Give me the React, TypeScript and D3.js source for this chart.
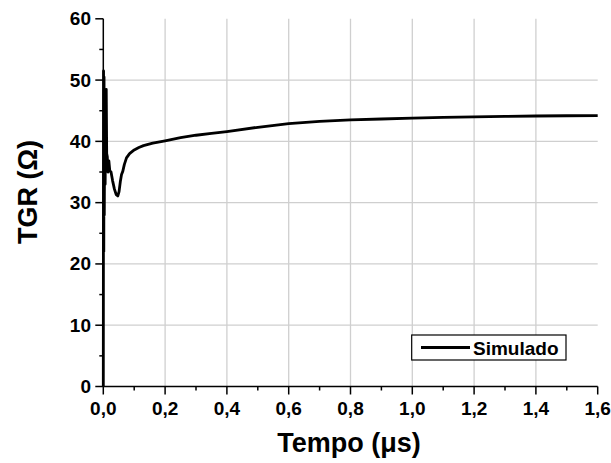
import React from "react";
import * as d3 from "d3";

const timeUs = [0, 0.0008, 0.0016, 0.0024, 0.0032, 0.0045, 0.006, 0.008, 0.0095, 0.011, 0.013, 0.015, 0.018, 0.021, 0.025, 0.03, 0.036, 0.042, 0.047, 0.051, 0.055, 0.059, 0.063, 0.068, 0.075, 0.085, 0.1, 0.115, 0.13, 0.16, 0.2, 0.25, 0.3, 0.35, 0.4, 0.5, 0.6, 0.7, 0.8, 0.9, 1.0, 1.1, 1.2, 1.3, 1.4, 1.5, 1.6];
const tgrOhm = [0, 51.5, 22, 50.5, 28, 44, 33, 46, 48.5, 38, 37.5, 35, 36.8, 35.2, 35.0, 33.6, 32.2, 31.3, 31.1, 31.8, 33.4, 34.6, 35.1, 36.2, 37.3, 38.0, 38.6, 39.0, 39.3, 39.7, 40.1, 40.6, 41.0, 41.3, 41.6, 42.3, 42.9, 43.25, 43.5, 43.65, 43.8, 43.9, 44.0, 44.08, 44.14, 44.18, 44.2];

const xTicks = [0, 0.2, 0.4, 0.6, 0.8, 1.0, 1.2, 1.4, 1.6];
const xMinor = [0.1, 0.3, 0.5, 0.7, 0.9, 1.1, 1.3, 1.5];
const yTicks = [0, 10, 20, 30, 40, 50, 60];
const yMinor = [5, 15, 25, 35, 45, 55];
const seriesName = "Simulado";

const W = 611;
const H = 463;
const FONT = "Arial, 'Liberation Sans', sans-serif";

export default function App() {
  const x = d3.scaleLinear().domain([0, 1.6]).range([103.3, 597.7]);
  const y = d3.scaleLinear().domain([0, 60]).range([386.5, 18.8]);
  const line = d3
    .line<number>()
    .x((_, i) => x(timeUs[i]))
    .y((d) => y(d));
  const fmt = (v: number) => v.toFixed(1).replace(".", ",");

  return (
    <svg
      width={W}
      height={H}
      style={{ position: "absolute", left: 0, top: 0, background: "#fff" }}
      fontFamily={FONT}
    >
      {/* grid */}
      {xTicks
        .filter((t) => t > 0 && t < 1.6)
        .map((t) => (
          <line key={"gx" + t} x1={x(t)} x2={x(t)} y1={y(0)} y2={y(60)} stroke="#cfcfcf" strokeWidth={1.3} />
        ))}
      {yTicks
        .filter((t) => t > 0 && t < 60)
        .map((t) => (
          <line key={"gy" + t} x1={x(0)} x2={x(1.6)} y1={y(t)} y2={y(t)} stroke="#cfcfcf" strokeWidth={1.3} />
        ))}

      {/* data */}
      <path d={line(tgrOhm) || ""} fill="none" stroke="#000" strokeWidth={2.8} strokeLinejoin="round" />

      {/* axes */}
      <line x1={x(0)} x2={x(0)} y1={y(0)} y2={y(60)} stroke="#000" strokeWidth={1.5} />
      <line x1={x(0)} x2={x(1.6)} y1={y(0)} y2={y(0)} stroke="#000" strokeWidth={1.5} />
      {yTicks.map((t) => (
        <line key={"yt" + t} x1={x(0) - 8} x2={x(0)} y1={y(t)} y2={y(t)} stroke="#000" strokeWidth={1.5} />
      ))}
      {yMinor.map((t) => (
        <line key={"ym" + t} x1={x(0) - 4} x2={x(0)} y1={y(t)} y2={y(t)} stroke="#000" strokeWidth={1.5} />
      ))}
      {xTicks.map((t) => (
        <line key={"xt" + t} x1={x(t)} x2={x(t)} y1={y(0)} y2={y(0) + 8} stroke="#000" strokeWidth={1.5} />
      ))}
      {xMinor.map((t) => (
        <line key={"xm" + t} x1={x(t)} x2={x(t)} y1={y(0)} y2={y(0) + 4} stroke="#000" strokeWidth={1.5} />
      ))}
      {yTicks.map((t) => (
        <text key={"yl" + t} x={91} y={y(t) + 6.5} textAnchor="end" fontSize={19} fontWeight="bold">
          {t}
        </text>
      ))}
      {xTicks.map((t) => (
        <text key={"xl" + t} x={x(t)} y={415} textAnchor="middle" fontSize={19} fontWeight="bold">
          {fmt(t)}
        </text>
      ))}

      {/* titles */}
      <text x={349} y={452} textAnchor="middle" fontSize={27} fontWeight="bold">
        Tempo (μs)
      </text>
      <text transform="translate(37,192) rotate(-90)" textAnchor="middle" fontSize={27} fontWeight="bold">
        TGR (Ω)
      </text>

      {/* legend */}
      <rect x={411.7} y={335} width={154.3} height={25} fill="#fff" stroke="#000" strokeWidth={1.2} />
      <line x1={421} x2={470} y1={347.5} y2={347.5} stroke="#000" strokeWidth={2.8} />
      <text x={473} y={354.5} fontSize={19} fontWeight="bold">
        {seriesName}
      </text>
    </svg>
  );
}
